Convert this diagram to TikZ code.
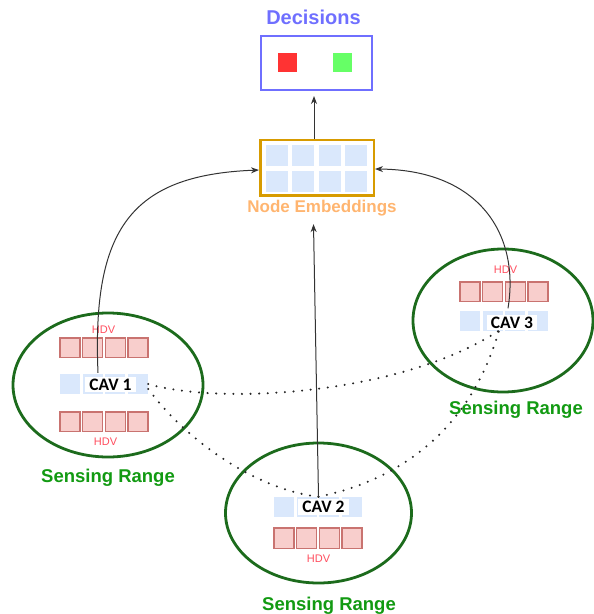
\documentclass[tikz,border=0pt]{standalone}
\usepackage{fontspec}
\setmainfont{Liberation Sans}
\newfontfamily\cavfont{Carlito}
\usetikzlibrary{arrows.meta}

\definecolor{decblue}{HTML}{6F6FFF}
\definecolor{decred}{HTML}{FF3333}
\definecolor{decgreen}{HTML}{66FF66}
\definecolor{embframe}{HTML}{D79B00}
\definecolor{embtext}{HTML}{FFB570}
\definecolor{cellblue}{HTML}{DAE8FC}
\definecolor{hdvfill}{HTML}{F8CECC}
\definecolor{hdvedge}{HTML}{C97370}
\definecolor{hdvtext}{HTML}{FF4D5E}
\definecolor{rangeline}{HTML}{1C6B1C}
\definecolor{rangetext}{HTML}{129A12}
\definecolor{linkgray}{HTML}{333333}

\tikzset{
  heading/.style={font=\bfseries\fontsize{20}{24}\selectfont, anchor=base},
  embcaption/.style={font=\bfseries\fontsize{17}{20}\selectfont, text=embtext, anchor=base},
  rangecaption/.style={font=\bfseries\fontsize{18.5}{22}\selectfont, text=rangetext, anchor=base},
  hdvcaption/.style={font=\fontsize{11}{13}\selectfont, text=hdvtext, anchor=base},
  cavlabel/.style={font=\cavfont\bfseries\fontsize{17.5}{20}\selectfont, fill=white,
                   inner xsep=4pt, inner ysep=2pt},
  vrow/.style={minimum width=88pt, minimum height=20pt, inner sep=0pt},
  hdvcell/.style={fill=hdvfill, draw=hdvedge, line width=1.3pt},
  rangeoval/.style={draw=rangeline, line width=2.8pt},
  feed/.style={draw=linkgray, line width=1pt, -{Stealth[length=8pt,width=6pt]}},
  v2v/.style={draw=black!85, line width=2.3pt, line cap=round, dash pattern=on 0pt off 8.6pt}
}

\begin{document}
\begin{tikzpicture}[x=1pt, y=-1pt]
\useasboundingbox (0,0) rectangle (594,614);

% ---------- decision output ----------
\node[heading, text=decblue] (dectitle) at (313.5,24) {Decisions};
\node[draw=decblue, line width=2pt, minimum width=111pt, minimum height=54pt, inner sep=0pt]
  (dec) at (316.5,63) {};
\fill[decred]   (278,53) rectangle (297,72);
\fill[decgreen] (333,53) rectangle (352,72);

% ---------- node embeddings ----------
\node[draw=embframe, fill=white, line width=2.5pt, minimum width=113.5pt,
      minimum height=55.5pt, inner sep=0pt] (emb) at (317,167.5) {};
\foreach \cx in {266,292,319,345}
  \foreach \cy in {145,171}
    \fill[cellblue] (\cx,\cy) rectangle ++(22,21);
\node[embcaption] (embl) at (322,212) {Node Embeddings};

% ---------- sensing ranges ----------
\draw[rangeoval] (108,385) ellipse [x radius=95, y radius=72];
\draw[rangeoval] (503,320.5) ellipse [x radius=90, y radius=71.5];
\draw[rangeoval] (318.5,513) ellipse [x radius=93, y radius=70];

\node[rangecaption] (range1) at (108,482) {Sensing Range};
\node[rangecaption] (range3) at (516,414) {Sensing Range};
\node[rangecaption] (range2) at (329,610) {Sensing Range};

% ---------- vehicle rows ----------
% CAV 1 : HDV row above and below
\node[vrow] (row1) at (104,384) {};
\foreach \i in {0,...,3} {
  \draw[hdvcell] (60+\i*22.7,338) rectangle ++(20,19.5);
  \fill[cellblue] (60+\i*22.7,374) rectangle ++(20,20);
  \draw[hdvcell] (60+\i*22.7,412) rectangle ++(20,19.5);
}
\node[hdvcaption] (hdv1a) at (103.5,333) {HDV};
\node[hdvcaption] (hdv1b) at (105.5,445) {HDV};

% CAV 3 : HDV row above
\node[vrow] (row3) at (504,320.5) {};
\foreach \i in {0,...,3} {
  \draw[hdvcell] (460+\i*22.7,282) rectangle ++(20,19.5);
  \fill[cellblue] (460+\i*22.7,311) rectangle ++(20,19.5);
}
\node[hdvcaption] (hdv3) at (505.5,273) {HDV};

% CAV 2 : HDV row below
\node[vrow] (row2) at (318.5,507) {};
\foreach \i in {0,...,3} {
  \draw[hdvcell] (274+\i*22.7,528) rectangle ++(20,20.5);
  \fill[cellblue] (274+\i*22.7,497) rectangle ++(20,20);
}
\node[hdvcaption] (hdv2) at (318.5,562) {HDV};

% ---------- V2V links ----------
\draw[v2v] (row1.east) .. controls (220,405) and (400,395) .. ([xshift=-5pt]row3.south);
\draw[v2v] ([yshift=-5pt]row1.east) .. controls (190,445) and (260,490) .. (row2.north);
\draw[v2v] (row2.north) .. controls (400,480) and (470,430) .. ([xshift=-5pt]row3.south);

% ---------- aggregation arrows ----------
\draw[feed] ([xshift=-6pt,yshift=1pt]row1.north) .. controls (92,230) and (130,175) .. ([yshift=-2.5pt]emb.west);
\draw[feed] ([xshift=4pt,yshift=2pt]row3.north) .. controls (520,235) and (480,170) .. ([yshift=-1.5pt]emb.east);
\draw[feed] (row2.north) -- ([xshift=-8.5pt,yshift=-5pt]embl.south);
\draw[feed, shorten >=5pt] ([xshift=-3pt]emb.north) -- ([xshift=-2.5pt]dec.south);

% ---------- CAV labels ----------
\node[cavlabel] (cav1) at (110.5,384.5) {CAV 1};
\node[cavlabel] (cav3) at (512,322.5) {CAV 3};
\node[cavlabel] (cav2) at (323.5,507) {CAV 2};
\end{tikzpicture}
\end{document}
